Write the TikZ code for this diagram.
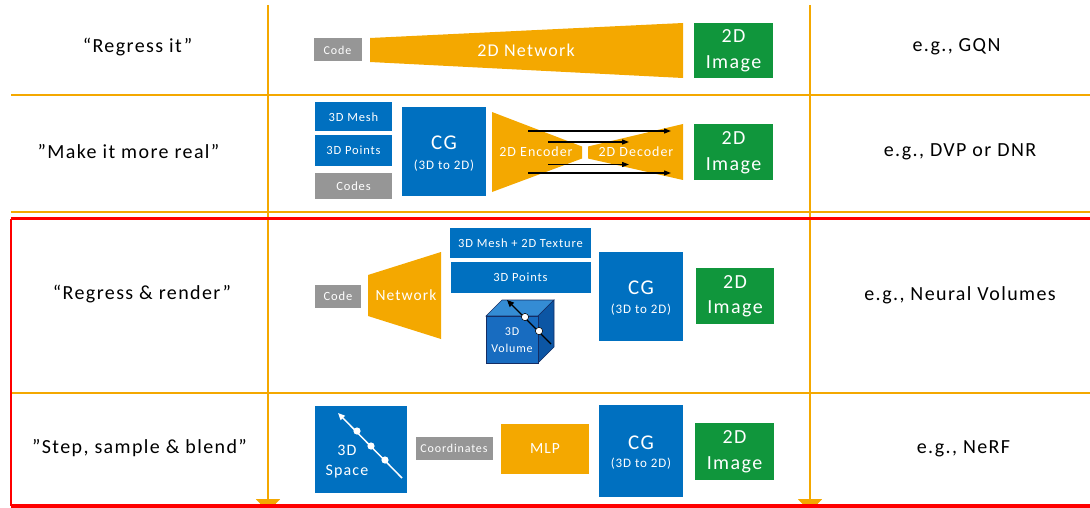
\documentclass[tikz,border=0pt]{standalone}
\usepackage{fontspec}
\setmainfont{Carlito}[LetterSpace=7]
\usetikzlibrary{arrows.meta}
\definecolor{orng}{RGB}{244,168,0}
\definecolor{blu}{RGB}{0,112,192}
\definecolor{grn}{RGB}{16,150,60}
\definecolor{gry}{RGB}{150,150,150}
\definecolor{redl}{RGB}{255,0,0}
\definecolor{cubefront}{RGB}{24,108,192}
\definecolor{cubetop}{RGB}{52,140,212}
\definecolor{cubeside}{RGB}{12,86,164}
\definecolor{navy}{RGB}{20,45,100}
\newcommand{\fz}[1]{\fontsize{#1}{1.2\dimexpr #1pt\relax}\selectfont}
\begin{document}
\begin{tikzpicture}[x=1pt,y=-1pt,
  box/.style={rectangle, inner sep=0pt, text=white, align=center},
  bluebox/.style={box, fill=blu},
  greenbox/.style={box, fill=grn, font=\fontsize{20}{25.5}\selectfont},
  graybox/.style={box, fill=gry},
  orangebox/.style={box, fill=orng},
  rowlabel/.style={text=black, font=\fontsize{20}{24}\selectfont},
  exlabel/.style={text=black, font=\fontsize{20}{24}\selectfont},
  cgbig/.style={text=white, inner sep=0pt, font=\fz{21}},
  cgsmall/.style={text=white, inner sep=0pt, font=\fz{13}},
  oline/.style={orng, line width=2pt},
  vline/.style={orng, line width=2pt, -{Triangle[width=24pt,length=13pt]}},
  skip/.style={-{Triangle[length=7pt,width=5pt]}, line width=1.2pt, black},
]
\useasboundingbox (0,0) rectangle (1090,508);

% horizontal separators
\coordinate (h1a) at (11,95);  \coordinate (h1b) at (1092,95);
\coordinate (h2a) at (11,212); \coordinate (h2b) at (1092,212);
\coordinate (h3a) at (11,392.5); \coordinate (h3b) at (1092,392.5);
\draw[oline] (h1a) -- (h1b);
\draw[oline] (h2a) -- (h2b);
\draw[oline] (h3a) -- (h3b);

% vertical arrows
\coordinate (v1t) at (268,5); \coordinate (v1b) at (268,512);
\coordinate (v2t) at (810,5); \coordinate (v2b) at (810,512);
\draw[vline] (v1t) -- (v1b);
\draw[vline] (v2t) -- (v2b);

% red frame
\coordinate (r1) at (11,218.5); \coordinate (r2) at (1092,218.5);
\coordinate (r3) at (11,505.5); \coordinate (r4) at (1092,505.5);
\draw[redl, line width=3pt] (r1) -- (r2);
\draw[redl, line width=1.2pt] (r1) -- (r3);
\draw[redl, line width=4pt] (r3) -- (r4);

% row labels
\node[rowlabel] (l1) at (137.5,47) {“Regress it”};
\node[rowlabel] (l2) at (128.5,152) {”Make it more real”};
\node[rowlabel] (l3) at (142,294.5) {“Regress \& render”};
\node[rowlabel] (l4) at (139.5,448.5) {”Step, sample \& blend”};
\node[exlabel] (e1) at (956.5,47) {e.g., GQN};
\node[exlabel] (e2) at (960,152) {e.g., DVP or DNR};
\node[exlabel] (e3) at (960,295.5) {e.g., Neural Volumes};
\node[exlabel] (e4) at (963.5,448.5) {e.g., NeRF};

% ---------- row 1
\node[graybox, minimum width=48pt, minimum height=23pt, font=\fz{12}] (code1) at (337.5,50) {Code};
\fill[orng] (370,38) -- (683,23) -- (683,78) -- (370,62) -- cycle;
\node[box, font=\fz{18}] (net1) at (526,50) {2D Network};
\node[greenbox, minimum width=79pt, minimum height=55pt] (img1) at (733.5,50.5) {2D\\Image};

% ---------- row 2
\node[bluebox, minimum width=77pt, minimum height=29pt, font=\fz{12.5}] (mesh2) at (353.5,117) {3D Mesh};
\node[bluebox, minimum width=77pt, minimum height=31pt, font=\fz{12.5}] (pts2) at (353.5,150.5) {3D Points};
\node[graybox, minimum width=77pt, minimum height=26pt, font=\fz{12.5}] (codes2) at (353.5,186) {Codes};
\node[bluebox, minimum width=84pt, minimum height=89pt] (cg2) at (444,151.5) {};
\node[cgbig] (cg2a) at ([yshift=8.5pt]cg2.center) {CG};
\node[cgsmall] (cg2b) at ([yshift=-14pt]cg2.center) {(3D to 2D)};
\fill[orng] (492,112) -- (582,146.5) -- (582,158.5) -- (492,192) -- cycle;
\fill[orng] (588,146.5) -- (683,124) -- (683,180) -- (588,158.5) -- cycle;
\node[box, font=\fz{14}] (enc2) at (536,152) {2D Encoder};
\node[box, font=\fz{14}] (dec2) at (636,152) {2D Decoder};
\node[greenbox, minimum width=79pt, minimum height=56pt] (img2) at (733.5,152.5) {2D\\Image};
\coordinate (a1s) at (528,131); \coordinate (a1e) at (671,131);
\coordinate (a2s) at (548,142); \coordinate (a2e) at (629,142);
\coordinate (a3s) at (548,164.5); \coordinate (a3e) at (629,164.5);
\coordinate (a4s) at (528,173); \coordinate (a4e) at (671,173);
\draw[skip] (a1s) -- (a1e);
\draw[skip] (a2s) -- (a2e);
\draw[skip] (a3s) -- (a3e);
\draw[skip] (a4s) -- (a4e);

% ---------- row 3
\node[graybox, minimum width=46pt, minimum height=23pt, font=\fz{12.5}] (code3) at (338,296.5) {Code};
\fill[orng] (368,275) -- (441,252) -- (441,339) -- (368,316) -- cycle;
\node[box, font=\fz{15.5}] (net3) at (406,295.5) {Network};
\node[bluebox, minimum width=141pt, minimum height=30pt, font=\fz{12.5}] (meshtex3) at (520.5,243) {3D Mesh + 2D Texture};
\node[bluebox, minimum width=140pt, minimum height=31pt, font=\fz{12.5}] (pts3) at (520.5,277.5) {3D Points};
% cube
\filldraw[fill=cubetop, draw=navy, line width=0.6pt] (486,316) -- (502,300) -- (554,300) -- (538,316) -- cycle;
\filldraw[fill=cubeside, draw=navy, line width=0.6pt] (538,316) -- (554,300) -- (554,347) -- (538,363) -- cycle;
\filldraw[fill=cubefront, draw=navy, line width=0.6pt] (486,316) rectangle (538,363);
\node[box, font=\fontsize{12}{17}\selectfont] (vol3) at (512,340) {3D\\Volume};
\coordinate (ca) at (551,344); \coordinate (cb) at (507,300);
\draw[-{Triangle[length=7pt,width=6pt]}, line width=1.3pt, black] (ca) -- (cb);
\fill[white, draw=black, line width=0.5pt] (525,317) circle (3.6pt);
\fill[white, draw=black, line width=0.5pt] (539,331) circle (3.6pt);
\node[bluebox, minimum width=84pt, minimum height=89pt] (cg3) at (641,296.5) {};
\node[cgbig] (cg3a) at ([yshift=8.5pt]cg3.center) {CG};
\node[cgsmall] (cg3b) at ([yshift=-13pt]cg3.center) {(3D to 2D)};
\node[greenbox, minimum width=78pt, minimum height=56pt] (img3) at (735,296) {2D\\Image};

% ---------- row 4
\node[bluebox, minimum width=92pt, minimum height=87pt] (space4) at (361,449.5) {};
\coordinate (sa) at (402,478); \coordinate (sb) at (338,413);
\draw[-{Triangle[length=7pt,width=6pt]}, line width=1.5pt, white] (sa) -- (sb);
\fill[white] (357,431) circle (3.6pt);
\fill[white] (371,446) circle (3.6pt);
\fill[white] (385,460) circle (3.6pt);
\node[box, font=\fontsize{16}{20}\selectfont] (sp4) at (347,462) {3D\\Space};
\node[graybox, minimum width=77pt, minimum height=23pt, font=\fz{12}] (coord4) at (454,448.5) {Coordinates};
\node[orangebox, minimum width=88pt, minimum height=50pt, font=\fz{15.5}] (mlp4) at (545,449) {MLP};
\node[bluebox, minimum width=84pt, minimum height=92pt] (cg4) at (641,451) {};
\node[cgbig] (cg4a) at ([yshift=8pt]cg4.center) {CG};
\node[cgsmall] (cg4b) at ([yshift=-13pt]cg4.center) {(3D to 2D)};
\node[greenbox, minimum width=79pt, minimum height=57pt] (img4) at (734.5,451.5) {2D\\Image};
\end{tikzpicture}
\end{document}
